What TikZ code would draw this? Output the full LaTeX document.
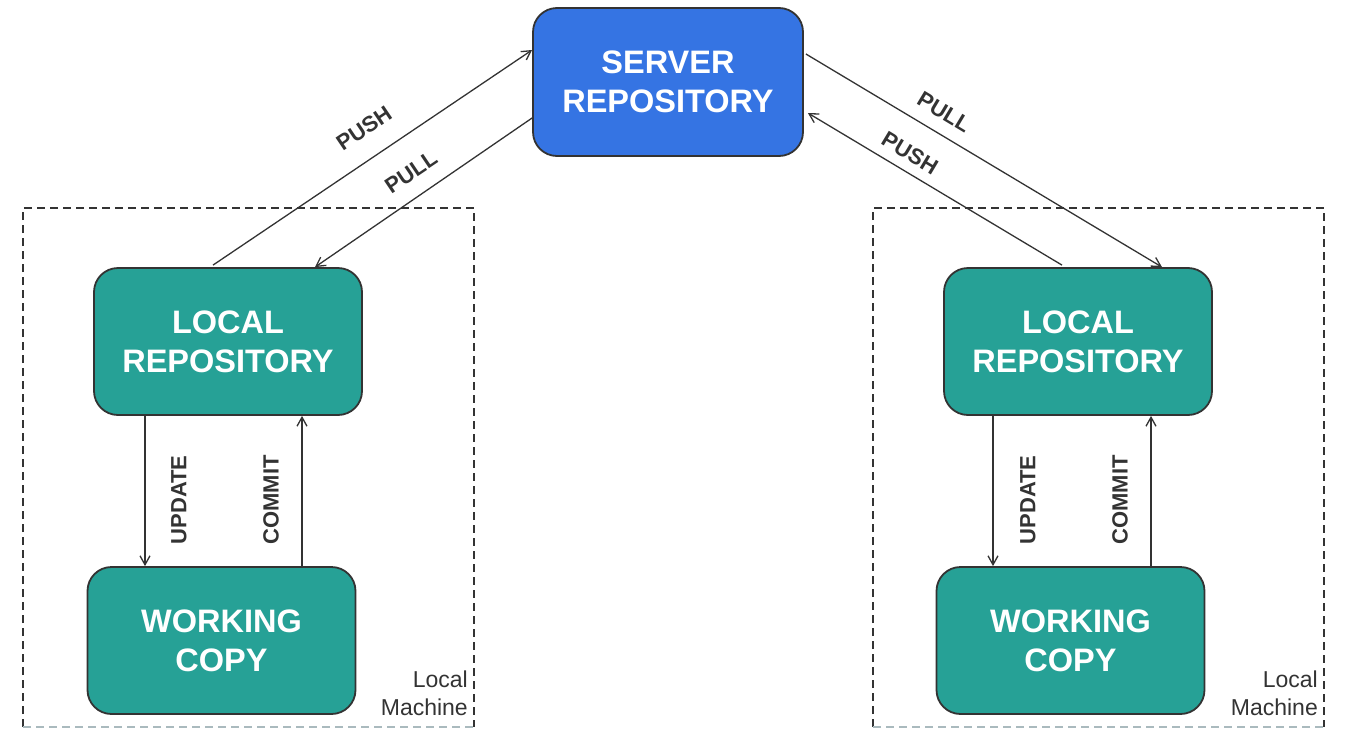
\documentclass[tikz,border=0pt]{standalone}
\usepackage{fontspec}
\setmainfont{Liberation Sans}
\usetikzlibrary{arrows.meta,calc}
\definecolor{teal1}{RGB}{38,161,150}
\definecolor{blue1}{RGB}{53,116,227}
\definecolor{edge1}{RGB}{51,51,51}
\definecolor{dashlight}{RGB}{170,186,190}
\begin{document}
\begin{tikzpicture}[x=1pt,y=-1pt,
  box/.style={draw=edge1,line width=1.8pt,rounded corners=24pt,text=white,font=\bfseries\fontsize{32.5}{39}\selectfont,align=center,inner sep=0pt},
  tealbox/.style={box,fill=teal1,minimum width=268pt,minimum height=147pt},
  arr/.style={draw=edge1,line width=1.3pt,-{Straight Barb[length=9pt,width=10pt,line width=1.3pt]}},
  lbl/.style={font=\bfseries\fontsize{22}{24}\selectfont,text=edge1,inner sep=0pt},
  machine/.style={draw=edge1,line width=1.8pt,dash pattern=on 8pt off 5pt},
  mlabel/.style={font=\fontsize{23}{28}\selectfont,text=edge1,align=right,inner sep=0pt,anchor=north east}]
\useasboundingbox (0,0) rectangle (1350,739);
% machine frames
\draw[machine] (23,727) -- (23,208) -- (474,208) -- (474,727);
\draw[machine,draw=dashlight] (23,727) -- (474,727);
\draw[machine] (873,727) -- (873,208) -- (1324,208) -- (1324,727);
\draw[machine,draw=dashlight] (873,727) -- (1324,727);
% nodes
\node[box,fill=blue1,minimum width=270pt,minimum height=148pt] (srv) at (668,82) {SERVER\\REPOSITORY};
\node[tealbox] (lrL) at (228,341.5) {LOCAL\\REPOSITORY};
\node[tealbox] (wcL) at (221.5,640.5) {WORKING\\COPY};
\node[tealbox] (lrR) at (1078,341.5) {LOCAL\\REPOSITORY};
\node[tealbox] (wcR) at (1070.5,640.5) {WORKING\\COPY};
% server connections
\draw[arr] ([xshift=-15pt,yshift=2pt]lrL.north) -- ([yshift=32pt]srv.west);
\draw[arr] ([yshift=-36pt]srv.west) -- ([xshift=87pt]lrL.north);
\draw[arr] ([xshift=2pt,yshift=28pt]srv.east) -- ([xshift=84pt]lrR.north);
\draw[arr] ([xshift=-16pt,yshift=2pt]lrR.north) -- ([xshift=4pt,yshift=-31pt]srv.east);
\node[lbl,rotate=34] (pushL) at (364,128) {PUSH};
\node[lbl,rotate=34] (pullL) at (411,172) {PULL};
\node[lbl,rotate=-31] (pullR) at (944,112) {PULL};
\node[lbl,rotate=-31] (pushR) at (910,153) {PUSH};
% local connections
\draw[arr] ([xshift=-83pt]lrL.south) -- ([xshift=-76.5pt]wcL.north);
\draw[arr] ([xshift=80.5pt]wcL.north) -- ([xshift=74pt]lrL.south);
\draw[arr] ([xshift=-85pt]lrR.south) -- ([xshift=-77.5pt]wcR.north);
\draw[arr] ([xshift=80.5pt]wcR.north) -- ([xshift=73pt]lrR.south);
\node[lbl,rotate=90] (updL) at (179,500) {UPDATE};
\node[lbl,rotate=90] (comL) at (271,500) {COMMIT};
\node[lbl,rotate=90] (updR) at (1028,500) {UPDATE};
\node[lbl,rotate=90] (comR) at (1120,500) {COMMIT};
% labels
\node[mlabel] (mL) at (468,671) {Local\\Machine};
\node[mlabel] (mR) at (1318,671) {Local\\Machine};
\end{tikzpicture}
\end{document}
